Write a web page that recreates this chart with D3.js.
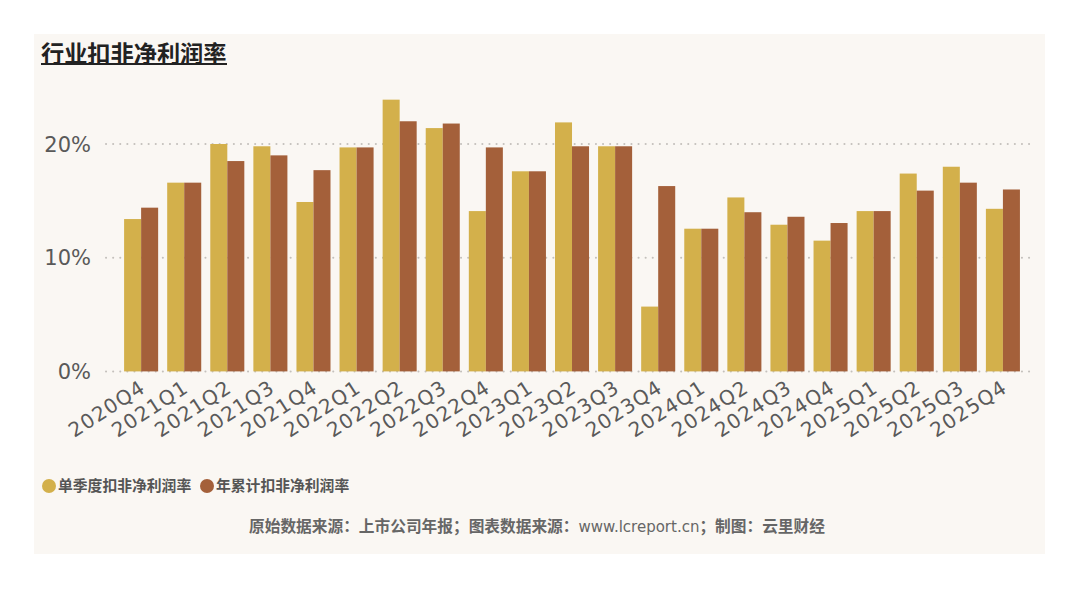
<!DOCTYPE html>
<html>
<head>
<meta charset="utf-8">
<script src="https://cdn.jsdelivr.net/npm/d3@7"></script>
<style>
html,body{margin:0;padding:0;background:#fff;}
svg{display:block;}
</style>
</head>
<body>
<svg id="chart" width="1080" height="589"></svg>
<script>
const categories = ["2020Q4","2021Q1","2021Q2","2021Q3","2021Q4","2022Q1","2022Q2","2022Q3","2022Q4","2023Q1","2023Q2","2023Q3","2023Q4","2024Q1","2024Q2","2024Q3","2024Q4","2025Q1","2025Q2","2025Q3","2025Q4"];
const singleQuarter = [13.4,16.6,20.0,19.8,14.9,19.7,23.9,21.4,14.1,17.6,21.9,19.8,5.7,12.55,15.3,12.9,11.5,14.1,17.4,18.0,14.3];
const cumulative = [14.4,16.6,18.5,19.0,17.7,19.7,22.0,21.8,19.7,17.6,19.8,19.8,16.3,12.55,14.0,13.6,13.05,14.1,15.9,16.6,16.0];
const seriesNames = ["单季度扣非净利润率","年累计扣非净利润率"];
const seriesColors = ["#D3B04B","#A4603A"];
const yTicks = [0,10,20];
const title = "行业扣非净利润率";
const footer = ["原始数据来源：上市公司年报；图表数据来源：","www.lcreport.cn","；制图：云里财经"];

const svg = d3.select("#chart");
svg.append("rect").attr("x",34).attr("y",34).attr("width",1011).attr("height",520).attr("fill","#FAF7F3");

const x = d3.scaleBand().domain(categories).range([106,1032]).paddingInner(0.21).paddingOuter(0.35).align(0.6);
const x1 = d3.scaleBand().domain([0,1]).range([0,x.bandwidth()]);
const y = d3.scaleLinear().domain([0,20]).range([371.4,144]);

// gridlines
const grid = svg.append("g");
grid.selectAll("line").data(yTicks).join("line")
  .attr("x1",106).attr("x2",1032)
  .attr("y1",d=>y(d)).attr("y2",d=>y(d))
  .attr("stroke","#c4c0bc").attr("stroke-width",2)
  .attr("stroke-dasharray","0.1,7").attr("stroke-linecap","round");

// y labels
svg.append("g").selectAll("text").data(yTicks).join("text")
  .attr("x",91).attr("y",d=>y(d)).attr("dy","0.36em")
  .attr("text-anchor","end")
  .attr("font-family","DejaVu Sans, Verdana, sans-serif").attr("font-size",21)
  .attr("fill","#595959").text(d=>d+"%");

// bars
const data = categories.map((c,i)=>({c, v:[singleQuarter[i],cumulative[i]]}));
const g = svg.append("g").selectAll("g").data(data).join("g")
  .attr("transform",d=>`translate(${x(d.c)},0)`);
g.selectAll("rect").data(d=>d.v.map((v,k)=>({v,k}))).join("rect")
  .attr("x",d=>x1(d.k)).attr("width",x1.bandwidth())
  .attr("y",d=>y(d.v)).attr("height",d=>y(0)-y(d.v))
  .attr("fill",d=>seriesColors[d.k]);

// x labels
svg.append("g").selectAll("text").data(categories).join("text")
  .attr("transform",c=>`translate(${x(c)+x.bandwidth()/2+2},${385}) rotate(-33)`)
  .attr("text-anchor","end")
  .attr("font-family","DejaVu Sans, Verdana, sans-serif").attr("font-size",20).attr("letter-spacing",1.2)
  .attr("fill","#5a5a5a").attr("dy","0.35em").text(c=>c);

// title
svg.append("text").attr("x",41).attr("y",62)
  .attr("font-family","Noto Sans CJK SC, sans-serif").attr("font-size",23.2).attr("font-weight","bold")
  .attr("fill","#222").text(title);
svg.append("rect").attr("x",41).attr("y",63).attr("width",186).attr("height",2).attr("fill","#222");

// legend
const leg = svg.append("g");
const legX = [49,207];
seriesNames.forEach((n,i)=>{
  leg.append("circle").attr("cx",legX[i]).attr("cy",486).attr("r",7).attr("fill",seriesColors[i]);
  leg.append("text").attr("x",legX[i]+9).attr("y",486).attr("dy","0.36em")
    .attr("font-family","Noto Sans CJK SC, sans-serif").attr("font-size",14.8).attr("font-weight","bold")
    .attr("fill","#555").text(n);
});

// footer
const ft = svg.append("text").attr("x",537).attr("y",532).attr("text-anchor","middle")
  .attr("font-family","Noto Sans CJK SC, sans-serif").attr("font-size",15.7).attr("fill","#666");
ft.append("tspan").attr("font-weight","bold").text(footer[0]);
ft.append("tspan").attr("font-family","DejaVu Sans, sans-serif").attr("font-size",15).attr("font-weight","normal").text(footer[1]);
ft.append("tspan").attr("font-weight","bold").text(footer[2]);
</script>
</body>
</html>
